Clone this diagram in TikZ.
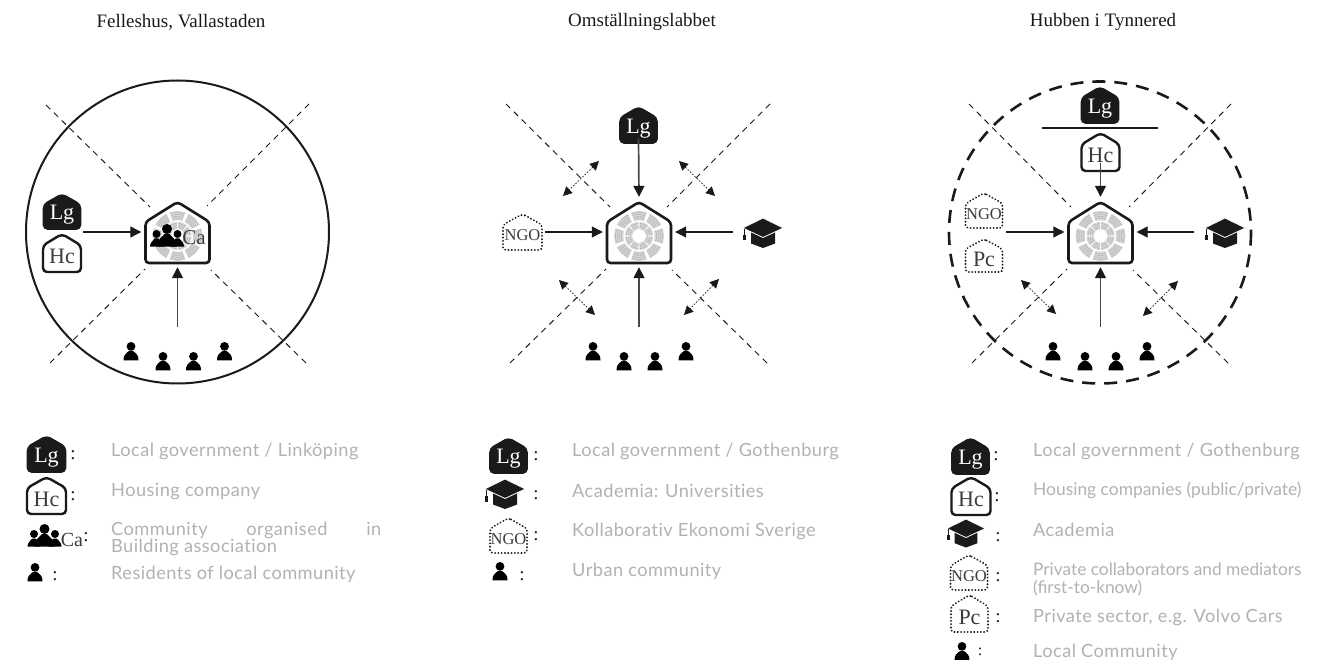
\documentclass[tikz,border=0pt]{standalone}
\usepackage{fontspec}
\setmainfont{Liberation Serif}
\newfontfamily\legfont[LetterSpace=2.5,Ligatures=NoCommon]{Lato}
\usetikzlibrary{arrows.meta}
\definecolor{ink}{HTML}{1A1A1A}
\definecolor{legcol}{HTML}{B2B2B2}
\newcommand{\fsz}[1]{\fontsize{#1}{#1}\selectfont}
\tikzset{
  x=1pt,y=-1pt,
  housedark/.style={draw=ink,fill=ink,line width=1.6pt,rounded corners=4pt},
  houselight/.style={draw=ink,fill=white,line width=2.4pt,rounded corners=4pt},
  housedot/.style={draw=ink,fill=white,line width=2pt,line cap=round,dash pattern=on 0.1pt off 3.2pt,rounded corners=3pt},
  labeldark/.style={text=white,inner sep=0pt,font=\fsz{22}},
  labellight/.style={text=ink!85,inner sep=0pt,font=\fsz{22}},
  labelsmall/.style={text=ink!85,inner sep=0pt,font=\fsz{16.5}},
  hubbox/.style={inner sep=0pt,minimum width=72pt,minimum height=70pt},
  arr/.style={draw=ink,line width=1.2pt,-{Triangle[length=11pt,width=11pt]}},
  arrv/.style={draw=ink!80,line width=1.7pt,-{Triangle[length=11pt,width=11pt,color=ink]}},
  diag/.style={draw=ink,line width=.95pt,dash pattern=on 6pt off 5pt},
  dbl/.style={draw=ink,line width=.7pt,dash pattern=on 1.6pt off 1.6pt,{Triangle[length=9pt,width=9pt]}-{Triangle[length=9pt,width=9pt]}},
  title/.style={font=\fsz{19},text=ink,inner sep=0pt},
  legtext/.style={font=\legfont\fsz{18.2},text=legcol,anchor=west,inner sep=0pt,align=left},
  colon/.style={font=\fsz{19},text=ink,inner sep=0pt},
  solidring/.style={draw=ink,line width=2pt},
  dashring/.style={draw=ink,line width=2.6pt,dash pattern=on 13pt off 9pt},
  rosettefill/.style={fill=gray!32},
  rosette/.style={draw=gray!62,line width=.45pt},
}
% name, cx, top, bottom, half width, path style, label style, text
\newcommand{\house}[8]{%
  \pgfmathsetmacro{\hcx}{#2}\pgfmathsetmacro{\hT}{#3}\pgfmathsetmacro{\hB}{#4}\pgfmathsetmacro{\hW}{#5}%
  \pgfmathsetmacro{\hE}{\hT+0.3*(\hB-\hT)}%
  \path[#6] (\hcx,\hT) -- (\hcx+\hW,\hE) -- (\hcx+\hW,\hB) -- (\hcx-\hW,\hB) -- (\hcx-\hW,\hE) -- cycle;
  \pgfmathsetmacro{\hM}{(\hT+\hB)/2+3.5}%
  \node[#7] (#1) at (\hcx,\hM) {#8};
}
% person: name, x, top
\newcommand{\person}[3]{%
  \begin{scope}[shift={(#2,#3)}]
    \fill[black] (0,4.4) circle[radius=4.4];
    \fill[black] (-7.5,18.3) .. controls (-7.8,13.5) and (-5,11) .. (-2.2,9) -- (2.2,9) .. controls (5,11) and (7.8,13.5) .. (7.5,18.3) -- cycle;
    \node[inner sep=0pt,minimum size=15pt] (#1) at (0,9) {};
  \end{scope}
}
% group icon: name, x centre, top
\newcommand{\crowd}[3]{%
  \begin{scope}[shift={(#2,#3)}]
    \foreach \px in {-10.5,10.5}{
      \fill[black] (\px,10) circle[radius=4];
      \fill[black] (\px-6.5,22.7) .. controls (\px-6.5,19) and (\px-4,17) .. (\px-1.8,14.5) -- (\px+1.8,14.5) .. controls (\px+4,17) and (\px+6.5,19) .. (\px+6.5,22.7) -- cycle;
    }
    \fill[black] (0,5) circle[radius=5];
    \fill[black] (-10,22.7) .. controls (-10,16) and (-5,13) .. (-2.5,10) -- (2.5,10) .. controls (5,13) and (10,16) .. (10,22.7) -- cycle;
    \node[inner sep=0pt,minimum size=12pt] (#1) at (0,11) {};
  \end{scope}
}
% cap: name, x centre, y of top, scale
\newcommand{\gradcap}[4]{%
  \begin{scope}[shift={(#2,#3)},scale=#4]
    \fill[ink] (-12,13) -- (12,13) -- (12,25.5) -- (0,30) -- (-12,25.5) -- cycle;
    \filldraw[fill=ink,draw=white,line width=.8pt] (0,0) -- (20.3,10) -- (0,19.5) -- (-20.3,10) -- cycle;
    \draw[ink,line width=.6pt] (-18.3,11) -- (-18.3,18);
    \fill[ink] (-19.6,17) rectangle (-17,22.5);
    \node[inner sep=0pt,minimum width=40pt,minimum height=29pt] (#1) at (0,15) {};
  \end{scope}
}
% hub: name, cx
\newcommand{\hub}[2]{%
  \pgfmathsetmacro{\ucx}{#2}%
  \path[draw=ink,fill=white,line width=2.6pt,rounded corners=3.5pt] (\ucx,202) -- (\ucx+32,222) -- (\ucx+32,263) -- (\ucx-32,263) -- (\ucx-32,222) -- cycle;
  \begin{scope}[shift={(\ucx,236)}]
    \foreach \sa in {0,45,...,315}{
      \fill[rosettefill] (\sa-18:15.8) -- (\sa:15.8) -- (\sa+18:15.8) -- (\sa+18:25) -- (\sa:25) -- (\sa-18:25) -- cycle;
      \fill[rosettefill] (\sa+3:6.8) -- (\sa+22.5:6.8) -- (\sa+42:6.8) -- (\sa+42:14.2) -- (\sa+22.5:14.2) -- (\sa+3:14.2) -- cycle;
      \foreach \rr in {17.5,19.5,21.5,23.5}{
        \draw[rosette] (\sa-18:\rr) -- (\sa-9:\rr) -- (\sa:\rr) -- (\sa+9:\rr) -- (\sa+18:\rr);
      }
      \foreach \rr in {8.5,10.5,12.5}{
        \draw[rosette] (\sa+3:\rr) -- (\sa+13:\rr) -- (\sa+22.5:\rr) -- (\sa+32:\rr) -- (\sa+42:\rr);
      }
    }
  \end{scope}
  \node[hubbox] (#1) at (\ucx,232) {};
}
\newcommand{\legitem}[4]{\node[legtext] (#1) at (#2,#3) {#4};}
\newcommand{\colonat}[3]{\node[colon] (#1) at (#2,#3) {:};}
\begin{document}
\begin{tikzpicture}
\useasboundingbox (0,0) rectangle (1334,660);
\fill[white] (0,0) rectangle (1334,660);
% titles
\node[title] (t1) at (181,22) {Felleshus, Vallastaden};
\node[title] (t2) at (642,22) {Omställningslabbet};
\node[title] (t3) at (1103,22) {Hubben i Tynnered};

%%% diagram 1
\coordinate (r1) at (177.5,232);
\draw[solidring] (r1) circle[radius=151.5];
\hub{c1}{177.5}
\coordinate (d1a) at (46,105); \coordinate (d1ae) at (150,207);
\coordinate (d1b) at (309,104); \coordinate (d1be) at (207,206);
\coordinate (d1c) at (50,363); \coordinate (d1ce) at (145,269);
\coordinate (d1d) at (306,363); \coordinate (d1de) at (211,270);
\draw[diag] (d1a) -- (d1ae); \draw[diag] (d1b) -- (d1be);
\draw[diag] (d1c) -- (d1ce); \draw[diag] (d1d) -- (d1de);
\house{lg1}{62}{194}{229}{18.5}{housedark}{labeldark}{Lg}
\house{hc1}{62}{234}{272}{19}{houselight}{labellight}{Hc}
\crowd{cr1}{167}{224}
\node[text=ink!85,inner sep=0pt,font=\fsz{21}] (ca1) at (194,238) {Ca};
\coordinate (a1s) at (83,232);
\coordinate (b1s) at (177.5,327);
\draw[arr] (a1s) -- (c1.west);
\draw[arrv] (b1s) -- (c1.south);
\person{p11}{131}{342}\person{p12}{163}{352}\person{p13}{193.5}{352}\person{p14}{224.5}{342}

%%% diagram 2
\hub{c2}{639}
\coordinate (d2a) at (506,104); \coordinate (d2ae) at (610,207);
\coordinate (d2b) at (770,104); \coordinate (d2be) at (667,207);
\coordinate (d2c) at (510,363); \coordinate (d2ce) at (606,269);
\coordinate (d2d) at (767,363); \coordinate (d2de) at (672,270);
\draw[diag] (d2a) -- (d2ae); \draw[diag] (d2b) -- (d2be);
\draw[diag] (d2c) -- (d2ce); \draw[diag] (d2d) -- (d2de);
\house{lg2}{638.5}{107}{143}{18.5}{housedark}{labeldark}{Lg}
\house{ngo2}{522.5}{214}{250}{19.5}{housedot}{labelsmall}{NGO}
\gradcap{cap2}{763}{218}{1}
\coordinate (a2s) at (545,232);
\coordinate (a2e) at (733,232);
\coordinate (b2s) at (639,327);
\draw[arrv] (lg2.south) -- (c2.north);
\draw[arr] (a2s) -- (c2.west);
\draw[arr] (a2e) -- (c2.east);
\draw[arrv] (b2s) -- (c2.south);
\coordinate (e2a) at (599,161); \coordinate (e2ae) at (563,196);
\coordinate (e2b) at (679,161); \coordinate (e2be) at (715,196);
\coordinate (e2c) at (559,280); \coordinate (e2ce) at (595,315);
\coordinate (e2d) at (719,279); \coordinate (e2de) at (684,315);
\draw[dbl] (e2a) -- (e2ae); \draw[dbl] (e2b) -- (e2be);
\draw[dbl] (e2c) -- (e2ce); \draw[dbl] (e2d) -- (e2de);
\person{p21}{593}{342}\person{p22}{624}{352}\person{p23}{655}{352}\person{p24}{686}{342}

%%% diagram 3
\coordinate (r3) at (1100,232.5);
\draw[dashring] (r3) circle[radius=151];
\hub{c3}{1100.5}
\coordinate (d3a) at (969,104); \coordinate (d3ae) at (1071,207);
\coordinate (d3b) at (1231,104); \coordinate (d3be) at (1129,207);
\coordinate (d3c) at (972,363); \coordinate (d3ce) at (1067,269);
\coordinate (d3d) at (1228,363); \coordinate (d3de) at (1133,270);
\draw[diag] (d3a) -- (d3ae); \draw[diag] (d3b) -- (d3be);
\draw[diag] (d3c) -- (d3ce); \draw[diag] (d3d) -- (d3de);
\house{lg3}{1100}{87}{123}{18.5}{housedark}{labeldark}{Lg}
\coordinate (l3a) at (1042,128); \coordinate (l3b) at (1158,128);
\draw[draw=ink,line width=1.3pt] (l3a) -- (l3b);
\house{hc3}{1100.5}{133}{171}{19}{houselight}{labellight}{Hc}
\house{ngo3}{984}{193}{228}{18.5}{housedot}{labelsmall}{NGO}
\house{pc3}{984}{239}{272}{18.5}{housedot}{labellight}{Pc}
\gradcap{cap3}{1225}{218}{1}
\coordinate (a3s) at (1006,232);
\coordinate (a3e) at (1194,232);
\coordinate (b3s) at (1100.5,327);
\draw[arrv] (hc3.south) -- (c3.north);
\draw[arr] (a3s) -- (c3.west);
\draw[arr] (a3e) -- (c3.east);
\draw[arrv] (b3s) -- (c3.south);
\coordinate (e3c) at (1021,280); \coordinate (e3ce) at (1056,314);
\coordinate (e3d) at (1178,281); \coordinate (e3de) at (1143,316);
\draw[dbl] (e3c) -- (e3ce); \draw[dbl] (e3d) -- (e3de);
\person{p31}{1053}{342}\person{p32}{1085}{352}\person{p33}{1116}{352}\person{p34}{1147}{342}

%%% legend 1
\house{kl1}{46.5}{436}{472}{19}{housedark}{labeldark}{Lg}
\colonat{kc11}{73}{455}
\legitem{kt11}{111}{451}{Local government / Linköping}
\house{kh1}{46.5}{477}{514}{19.5}{houselight}{labellight}{Hc}
\colonat{kc12}{73}{496}
\legitem{kt12}{111}{491.5}{Housing company}
\crowd{kg1}{44.5}{524}
\node[text=ink!85,inner sep=0pt,font=\fsz{20}] (kca1) at (72,540) {Ca};
\colonat{kc13}{86}{537}
\node[legtext] (kt13) at (111,538.5) {\parbox{270pt}{\baselineskip=17pt\makebox[270pt][s]{Community organised in}\\Building association}};
\person{kp1}{35}{563}
\colonat{kc14}{55}{576}
\legitem{kt14}{111}{574}{Residents of local community}

%%% legend 2
\house{kl2}{508.5}{438}{473}{18.5}{housedark}{labeldark}{Lg}
\colonat{kc21}{536}{456}
\legitem{kt21}{572}{451}{Local government / Gothenburg}
\gradcap{kcap2}{505}{479}{1}
\colonat{kc22}{536}{495}
\legitem{kt22}{572}{491}{Academia: Universities}
\house{kn2}{508.5}{518}{553}{18.5}{housedot}{labelsmall}{NGO}
\colonat{kc23}{536}{536}
\legitem{kt23}{572}{531}{Kollaborativ Ekonomi Sverige}
\person{kp2}{500}{562}
\colonat{kc24}{522}{576}
\legitem{kt24}{572}{571}{Urban community}

%%% legend 3
\house{kl3}{970.5}{438}{474}{18.5}{housedark}{labeldark}{Lg}
\colonat{kc31}{996}{456}
\legitem{kt31}{1033}{451}{Local government / Gothenburg}
\house{kh3}{971}{477}{515}{19.5}{houselight}{labellight}{Hc}
\colonat{kc32}{997}{497}
\node[legtext,font=\fontspec{Lato}\fsz{17.4}] (kt32) at (1033,490.5) {Housing companies (public/private)};
\gradcap{kcap3}{966}{519}{.95}
\colonat{kc33}{998}{537}
\legitem{kt33}{1033}{530}{Academia}
\house{kn3}{969}{555}{590}{18.5}{housedot}{labelsmall}{NGO}
\colonat{kc34}{998}{577}
\node[legtext,font=\fontspec{Lato}\fsz{17.3}] (kt34) at (1033,579) {\parbox{280pt}{\baselineskip=18pt Private collaborators and mediators\\(first-to-know)}};
\house{kpc3}{969.5}{595}{632}{18.5}{housedot}{labellight}{Pc}
\colonat{kc35}{998}{618}
\legitem{kt35}{1033}{617}{Private sector, e.g. Volvo Cars}
\person{kp3}{962}{642}
\node[colon,font=\fsz{16}] (kc36) at (980,652) {:};
\legitem{kt36}{1033}{652}{Local Community}
\end{tikzpicture}
\end{document}
